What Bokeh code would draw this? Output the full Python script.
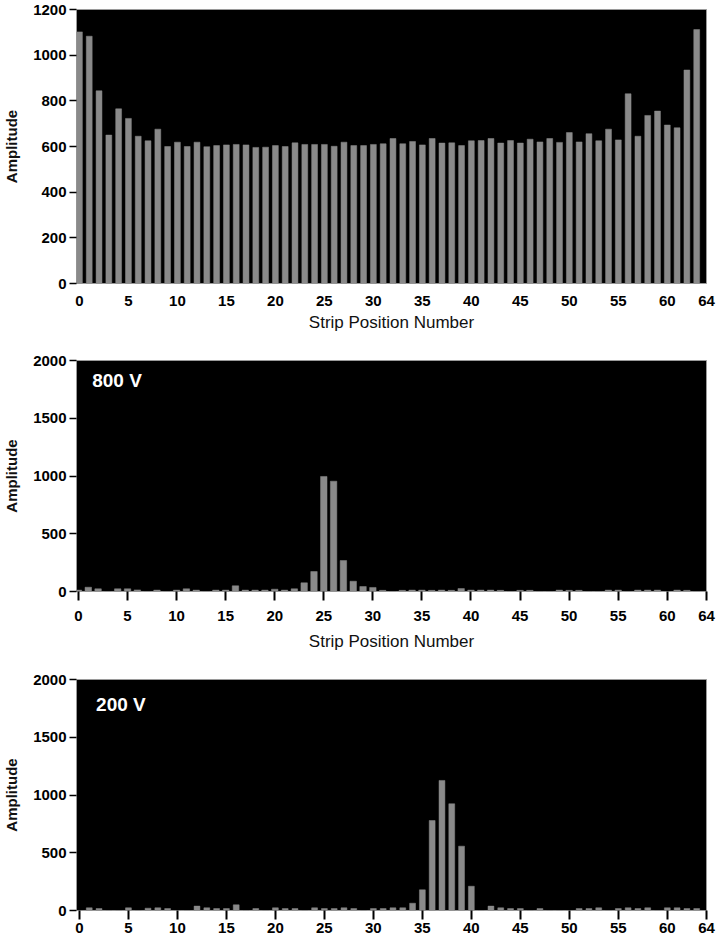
from bokeh.plotting import figure
from bokeh.models import FixedTicker, Label, Range1d
from bokeh.layouts import column
from bokeh.embed import file_html
from bokeh.resources import INLINE

strips = list(range(64))

uniform_amp = [1102, 1083, 844, 650, 765, 723, 645, 625, 676, 600, 619, 600, 619, 599, 604, 607,
               609, 607, 596, 597, 604, 600, 616, 609, 609, 609, 601, 619, 604, 604, 609, 612,
               635, 612, 622, 607, 635, 615, 616, 604, 625, 626, 635, 615, 626, 615, 632, 620,
               635, 618, 661, 620, 656, 625, 676, 629, 831, 645, 736, 755, 694, 682, 935, 1112]

amp_800v = [12, 37, 23, 0, 23, 23, 14, 0, 12, 0, 12, 23, 12, 0, 12, 12,
            49, 12, 12, 12, 20, 12, 23, 75, 173, 996, 955, 268, 89, 43, 35, 10,
            0, 10, 12, 12, 10, 12, 10, 25, 12, 12, 12, 10, 0, 10, 10, 0,
            0, 12, 10, 10, 0, 0, 12, 12, 0, 12, 12, 12, 0, 12, 10, 0]

amp_200v = [0, 23, 17, 0, 0, 23, 0, 20, 23, 17, 0, 0, 38, 23, 17, 17,
            49, 0, 17, 0, 23, 17, 17, 0, 23, 17, 17, 23, 17, 0, 17, 17,
            23, 23, 63, 179, 779, 1126, 924, 557, 210, 0, 38, 23, 17, 17, 0, 17,
            0, 0, 0, 17, 17, 23, 0, 17, 23, 17, 23, 0, 23, 23, 17, 17]

x_ticks = [0, 5, 10, 15, 20, 25, 30, 35, 40, 45, 50, 55, 60, 64]
y_ticks_top = [0, 200, 400, 600, 800, 1000, 1200]
y_ticks_low = [0, 500, 1000, 1500, 2000]
panel_labels = ["800 V", "200 V"]

FONT = "Liberation Sans"
BAR = "#8a8a8a"


def make_fig(values, xr, yr, yticks, frame_h, left, top, bottom,
             tick_out, label_standoff, xlabel, label_gap, bar_w):
    p = figure(frame_width=630, frame_height=frame_h,
               x_range=Range1d(*xr), y_range=Range1d(*yr),
               output_backend="svg", toolbar_location=None,
               min_border_left=left, min_border_right=10,
               min_border_top=top, min_border_bottom=bottom)
    p.background_fill_color = "black"
    p.border_fill_color = "white"
    p.outline_line_color = "#9a9a9a"
    p.outline_line_width = 1
    p.xgrid.visible = False
    p.ygrid.visible = False
    p.vbar(x=strips, top=values, width=bar_w, fill_color=BAR, line_color=BAR, line_width=0.5)

    xa = p.xaxis[0]
    xa.ticker = FixedTicker(ticks=x_ticks)
    xa.axis_line_color = None
    xa.major_tick_out = tick_out
    xa.major_tick_in = 0
    xa.major_tick_line_width = 2
    xa.major_tick_line_color = "black"
    xa.minor_tick_line_color = None
    xa.major_label_standoff = label_standoff
    xa.major_label_text_font = FONT
    xa.major_label_text_font_style = "bold"
    xa.major_label_text_font_size = "15px"
    xa.major_label_text_color = "black"
    if xlabel:
        xa.axis_label = xlabel
        xa.axis_label_text_font = FONT
        xa.axis_label_text_font_style = "normal"
        xa.axis_label_text_font_size = "17px"
        xa.axis_label_text_color = "#111111"
        xa.axis_label_standoff = label_gap

    ya = p.yaxis[0]
    ya.ticker = FixedTicker(ticks=yticks)
    ya.axis_line_color = None
    ya.major_tick_out = 7
    ya.major_tick_in = 0
    ya.major_tick_line_width = 1.5
    ya.major_tick_line_color = "black"
    ya.minor_tick_line_color = None
    ya.major_label_standoff = 3
    ya.major_label_text_font = FONT
    ya.major_label_text_font_style = "bold"
    ya.major_label_text_font_size = "15px"
    ya.major_label_text_color = "black"
    ya.axis_label = "Amplitude"
    ya.axis_label_text_font = FONT
    ya.axis_label_text_font_style = "bold"
    ya.axis_label_text_font_size = "15px"
    ya.axis_label_text_color = "#111111"
    ya.axis_label_standoff = 10
    return p


p1 = make_fig(uniform_amp, (-0.3, 64), (0, 1200), y_ticks_top, 274, 70, 9, 52,
              0, 12, "Strip Position Number", 4, 0.6)
p2 = make_fig(amp_800v, (-0.2, 64), (0, 2000), y_ticks_low, 231, 70, 25, 65,
              9, 10, "Strip Position Number", 8, 0.66)
p3 = make_fig(amp_200v, (-0.3, 64), (0, 2000), y_ticks_low, 231, 67, 23, 30,
              9, 3, None, 0, 0.6)

for p, txt, lx, ly in ((p2, panel_labels[0], 1.4, 1830), (p3, panel_labels[1], 1.7, 1780)):
    p.add_layout(Label(x=lx, y=ly, text=txt, text_color="white",
                       text_font=FONT, text_font_size="19px", text_font_style="bold",
                       text_baseline="middle", text_align="left"))

layout = column(p1, p2, p3, spacing=0)
open("out.html", "w").write(file_html(layout, INLINE))
